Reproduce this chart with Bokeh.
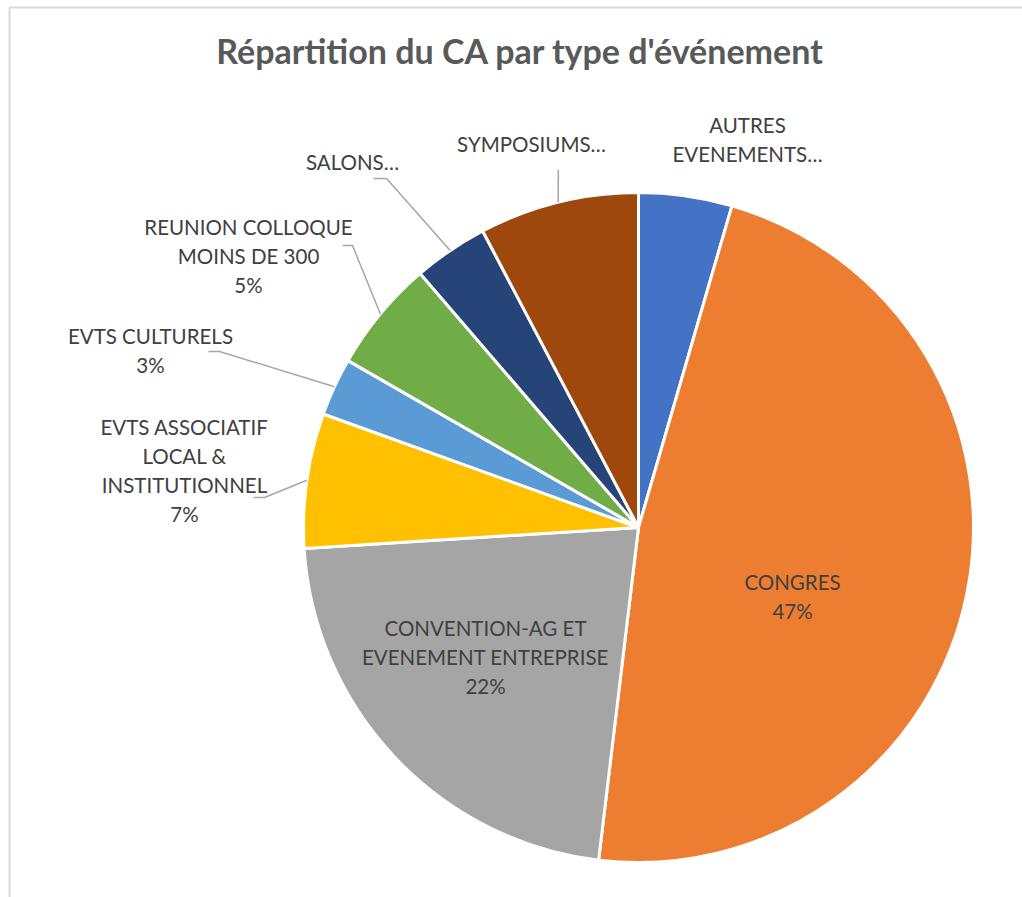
import math
from bokeh.plotting import figure
from bokeh.models import Range1d, ColumnDataSource
from bokeh.core.properties import value
from bokeh.embed import file_html
from bokeh.resources import INLINE

# ---- data ----
categories = ["AUTRES EVENEMENTS", "CONGRES", "CONVENTION-AG ET EVENEMENT ENTREPRISE",
              "EVTS ASSOCIATIF LOCAL & INSTITUTIONNEL", "EVTS CULTURELS",
              "REUNION COLLOQUE MOINS DE 300", "SALONS", "SYMPOSIUMS"]
shares = [4.5, 47.4, 22.1, 6.5, 2.8, 5.4, 3.6, 7.7]
label_lines = [["AUTRES", "EVENEMENTS…"], ["CONGRES"], ["CONVENTION-AG ET", "EVENEMENT ENTREPRISE"],
               ["EVTS ASSOCIATIF", "LOCAL &", "INSTITUTIONNEL"], ["EVTS CULTURELS"],
               ["REUNION COLLOQUE", "MOINS DE 300"], ["SALONS…"], ["SYMPOSIUMS…"]]
show_pct = [False, True, True, True, True, True, False, False]
colors = ["#4472C4", "#ED7D31", "#A5A5A5", "#FFC000", "#5B9BD5", "#70AD47", "#264478", "#9E480E"]
title_text = "Répartition du CA par type d'événement"

# ---- layout (screen pixel positions) ----
W, H = 1022, 897
OFF = 0
def dx(sx): return sx - OFF
def dy(sy): return H + OFF - sy

CX, CY, R = 638, 527, 335
label_pos = [(747, 124), (792, 581), (485, 627), (184, 426), (150, 335), (248, 226), (352, 161), (531, 143)]
line_h = 29.2
leader_pts = {3: [(253, 497), (264, 497)], 4: [(208, 351), (219, 351)],
              5: [(342, 245), (352, 245)], 6: [(373, 178), (386, 178)], 7: [(557.8, 169)]}

p = figure(width=W, height=H, output_backend="svg", toolbar_location=None,
           x_range=Range1d(0, W), y_range=Range1d(0, H),
           x_axis_location=None, y_axis_location=None, min_border=0)
p.grid.visible = False
p.outline_line_color = None
p.background_fill_color = "white"
p.border_fill_color = "white"

# chart-area border (left and top edges visible)
p.line([dx(9), dx(9), dx(W + 20)], [dy(H + 20), dy(7), dy(7)], line_color="#D9D9D9", line_width=2)

total = sum(shares)
starts, ends, mids = [], [], []
acc = 0.0
for v in shares:
    a1 = acc / total * 360.0
    acc += v
    a2 = acc / total * 360.0
    starts.append(math.radians(90 - a1))
    ends.append(math.radians(90 - a2))
    mids.append((a1 + a2) / 2)

src = ColumnDataSource(dict(start=starts, end=ends, color=colors, cat=categories))
p.wedge(x=dx(CX), y=dy(CY), radius=R, start_angle="start", end_angle="end",
        direction="clock", fill_color="color", line_color="white", line_width=3, source=src)

# leader lines
for i, pts in leader_pts.items():
    a = math.radians(mids[i])
    ex, ey = CX + R * math.sin(a), CY - R * math.cos(a)
    xs = [dx(x) for x, _ in pts] + [dx(ex)]
    ys = [dy(y) for _, y in pts] + [dy(ey)]
    p.line(xs, ys, line_color="#A6A6A6", line_width=1.5)

# labels
tx, ty, tt = [], [], []
for i, lines in enumerate(label_lines):
    full = list(lines)
    if show_pct[i]:
        full.append(f"{int(math.floor(shares[i] / total * 100 + 0.5))}%")
    lx, ly = label_pos[i]
    for k, t in enumerate(full):
        tx.append(dx(lx)); ty.append(dy(ly + k * line_h)); tt.append(t)
p.text(x=tx, y=ty, text=tt, text_align="center", text_baseline="middle",
       text_font=value("Lato"), text_font_size="20.5px", text_color="#404040")

p.text(x=[dx(520)], y=[dy(50)], text=[title_text], text_align="center", text_baseline="middle",
       text_font=value("Lato"), text_font_style="bold", text_font_size="34px", text_color="#595959")

open("out.html", "w").write(file_html(p, INLINE))
